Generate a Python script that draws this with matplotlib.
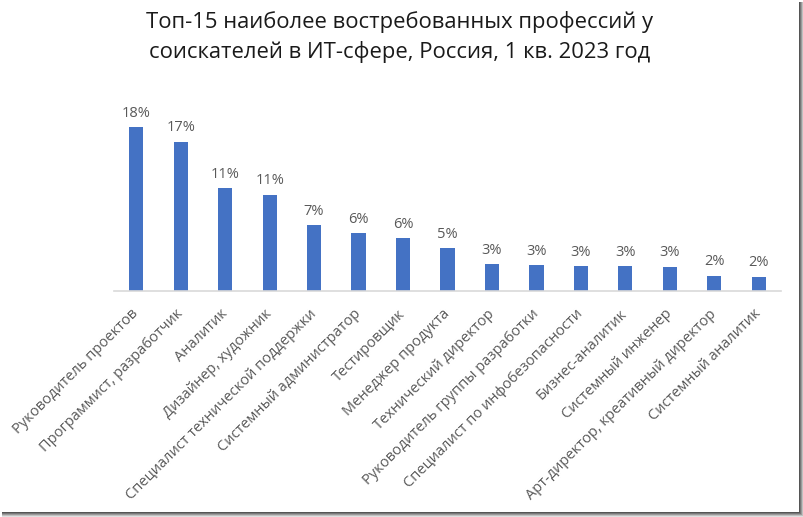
import matplotlib.pyplot as plt
from matplotlib.patches import Rectangle

professions = [
    "Руководитель проектов",
    "Программист, разработчик",
    "Аналитик",
    "Дизайнер, художник",
    "Специалист технической поддержки",
    "Системный администратор",
    "Тестировщик",
    "Менеджер продукта",
    "Технический директор",
    "Руководитель группы разработки",
    "Специалист по инфобезопасности",
    "Бизнес-аналитик",
    "Системный инженер",
    "Арт-директор, креативный директор",
    "Системный аналитик",
]
shares = [18.2, 16.6, 11.4, 10.7, 7.3, 6.4, 5.9, 4.8, 3.0, 2.9, 2.8, 2.8, 2.7, 1.7, 1.6]

W, H = 804, 517
plt.rcParams["font.family"] = ["Open Sans", "DejaVu Sans"]

fig = plt.figure(figsize=(W / 100, H / 100), dpi=100)
ax = fig.add_axes([114 / W, 1 - 291 / H, (781 - 114) / W, 180 / H])

x = range(len(shares))
bars = ax.bar(x, shares, width=0.32, color="#4472C4", zorder=2)
for b, v in zip(bars, shares):
    ax.text(b.get_x() + b.get_width() / 2, v + 0.7, f"{v:.0f}%",
            ha="center", va="bottom", fontsize=10.5, color="#595959", clip_on=False)

ax.set_xlim(-0.5, 14.5)
ax.set_ylim(0, 20)
ax.set_yticks([])
ax.set_xticks(list(x))
ax.set_xticklabels(professions, rotation=45, ha="right", va="center",
                   rotation_mode="anchor", fontsize=10.5, color="#595959")
ax.tick_params(axis="x", length=0, pad=15)
for side in ["top", "right", "left"]:
    ax.spines[side].set_visible(False)
ax.spines["bottom"].set_color("#D9D9D9")
ax.spines["bottom"].set_linewidth(1.2)

fig.text(0.4975, 1 - 22 / H, "Топ-15 наиболее востребованных профессий у",
         ha="center", va="center", fontsize=15.8, color="#1a1a1a")
fig.text(0.4975, 1 - 52 / H, "соискателей в ИТ-сфере, Россия, 1 кв. 2023 год",
         ha="center", va="center", fontsize=15.8, color="#1a1a1a")

# frame shadow on the right and bottom
for i, c in enumerate(["#555555", "#777777", "#9a9a9a", "#c0c0c0", "#e0e0e0"]):
    fig.patches.append(Rectangle(((799 + i) / W, 0), 1 / W, 1 - 2 / H,
                                 transform=fig.transFigure, color=c, lw=0))
    fig.patches.append(Rectangle((2 / W, (H - 513 - i) / H), (798 + i) / W, 1 / H,
                                 transform=fig.transFigure, color=c, lw=0))

fig.savefig("out.png", dpi=100)
